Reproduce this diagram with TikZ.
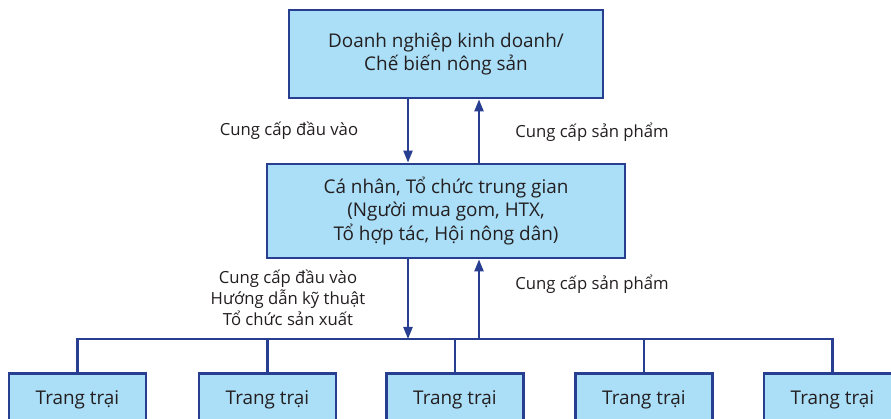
\documentclass[tikz,border=0pt]{standalone}
\usepackage{fontspec}
\setmainfont{Open Sans}
\usetikzlibrary{arrows.meta,calc}
\definecolor{boxfill}{RGB}{171,223,248}
\definecolor{navy}{RGB}{40,62,145}
\definecolor{ink}{RGB}{35,31,32}
\tikzset{
  box/.style={draw=navy, fill=boxfill, line width=2.8pt, inner sep=0pt, align=center, text=ink, font=\fontsize{18.9}{23.5}\selectfont},
  farm/.style={box, minimum width=137pt, minimum height=52pt, anchor=north},
  conn/.style={draw=navy, line width=2.2pt},
  arr/.style={conn, -{Triangle[length=12pt,width=9pt]}},
  lab/.style={text=ink, font=\fontsize{16.7}{21}\selectfont, align=center, inner sep=0pt}
}
\begin{document}
\begin{tikzpicture}[x=1pt,y=-1pt]
\useasboundingbox (0,0) rectangle (891,419);
\clip (0,0) rectangle (891,419);
\fill[white] (0,0) rectangle (891,419);
% main boxes
\node[box, minimum width=314pt, minimum height=88pt] (top) at (446,54) {Doanh nghiệp kinh doanh/\\Chế biến nông sản};
\node[box, minimum width=358pt, minimum height=94pt] (mid) at (446,211) {Cá nhân, Tổ chức trung gian\\(Người mua gom, HTX,\\Tổ hợp tác, Hội nông dân)};
% farms
\node[farm] (f1) at (77.5,372) {Trang trại};
\node[farm] (f2) at (267.5,372) {Trang trại};
\node[farm] (f3) at (455,372) {Trang trại};
\node[farm] (f4) at (644,372) {Trang trại};
\node[farm] (f5) at (832.5,372) {Trang trại};
% coordinates
\coordinate (xd) at (408,0);
\coordinate (xu) at (479,0);
\coordinate (bus) at (0,339);
% bus
\draw[conn] (f1.north) -- (f1.north |- bus) -- (f5.north |- bus) -- (f5.north);
\draw[conn] (f2.north) -- (f2.north |- bus);
\draw[conn] (f3.north) -- (f3.north |- bus);
\draw[conn] (f4.north) -- (f4.north |- bus);
% arrows
\draw[arr] (top.south -| xd) -- (mid.north -| xd);
\draw[arr] (mid.north -| xu) -- (top.south -| xu);
\draw[arr] (mid.south -| xd) -- (bus -| xd);
\draw[arr] (bus -| xu) -- (mid.south -| xu);
% labels
\node[lab] (l1) at (289,131) {Cung cấp đầu vào};
\node[lab] (l2) at (592,132) {Cung cấp sản phẩm};
\node[lab] (l3) at (288,298) {Cung cấp đầu vào\\Hướng dẫn kỹ thuật\\Tổ chức sản xuất};
\node[lab] (l4) at (592,284) {Cung cấp sản phẩm};
\end{tikzpicture}
\end{document}
